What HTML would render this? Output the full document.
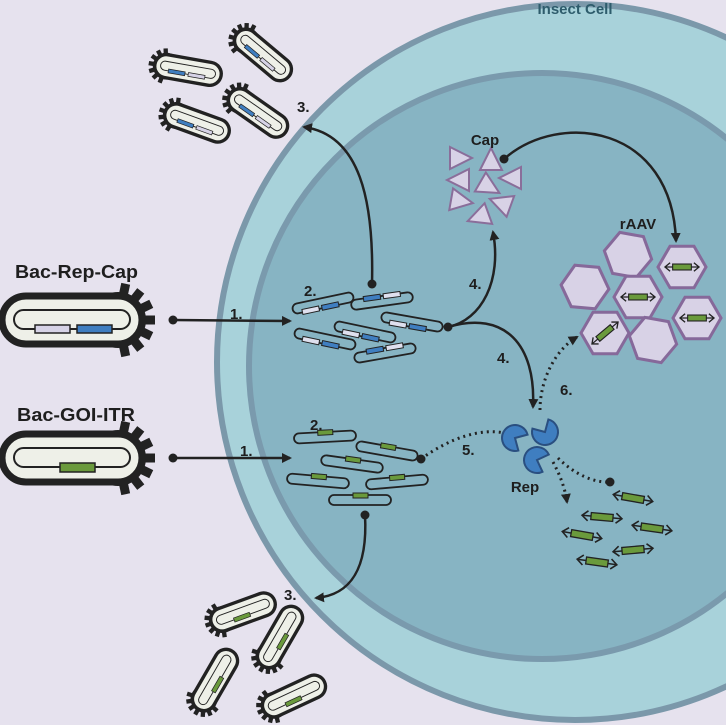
<!DOCTYPE html>
<html><head><meta charset="utf-8"><style>
html,body{margin:0;padding:0;background:#e6e2ee;}
svg{display:block;}
text{font-family:"Liberation Sans",Arial,sans-serif;font-weight:bold;fill:#1e1e1e;}
</style></head><body>
<svg width="726" height="725" viewBox="0 0 726 725" xmlns="http://www.w3.org/2000/svg">
<defs>
<marker id="ah" markerWidth="12" markerHeight="12" refX="8" refY="5" orient="auto" markerUnits="userSpaceOnUse">
<path d="M0,0 L10,5 L0,10 z" fill="#222"/></marker>
<g id="teeth" fill="#222">
<g transform="translate(-46,0)">
<circle r="28"/>
<rect x="-37" y="-4.5" width="10" height="9" transform="rotate(0)"/>
<rect x="-37" y="-4.5" width="10" height="9" transform="rotate(26)"/>
<rect x="-37" y="-4.5" width="10" height="9" transform="rotate(-26)"/>
<rect x="-37" y="-4.5" width="10" height="9" transform="rotate(52)"/>
<rect x="-37" y="-4.5" width="10" height="9" transform="rotate(-52)"/>
<rect x="-37" y="-4.5" width="10" height="9" transform="rotate(78)"/>
<rect x="-37" y="-4.5" width="10" height="9" transform="rotate(-78)"/>
</g></g>
<g id="bacRC">
<use href="#teeth"/>
<rect x="-70" y="-24" width="140" height="48" rx="24" fill="#eef0e8" stroke="#222" stroke-width="7"/>
<rect x="-58" y="-10" width="116" height="19" rx="9.5" fill="none" stroke="#222" stroke-width="2"/>
<rect x="-40" y="5" width="35" height="8" fill="#3f7ec0" stroke="#222" stroke-width="1.5"/>
<rect x="2" y="5" width="35" height="8" fill="#d6d3e6" stroke="#222" stroke-width="1.5"/>
</g>
<g id="bacG">
<use href="#teeth"/>
<rect x="-70" y="-24" width="140" height="48" rx="24" fill="#eef0e8" stroke="#222" stroke-width="7"/>
<rect x="-58" y="-10" width="116" height="19" rx="9.5" fill="none" stroke="#222" stroke-width="2"/>
<rect x="-23" y="5" width="35" height="9" fill="#6a9a3c" stroke="#222" stroke-width="1.5"/>
</g>
<g id="plRC">
<rect x="-31" y="-5" width="62" height="10" rx="5" fill="none" stroke="#222" stroke-width="1.8"/>
<rect x="-22" y="2" width="17" height="5" fill="#dfe0ee" stroke="#222" stroke-width="1"/>
<rect x="-2" y="2" width="17" height="5" fill="#3f7ec0" stroke="#222" stroke-width="1"/>
</g>
<g id="plCR">
<rect x="-31" y="-5" width="62" height="10" rx="5" fill="none" stroke="#222" stroke-width="1.8"/>
<rect x="-18" y="-7" width="17" height="5" fill="#3f7ec0" stroke="#222" stroke-width="1"/>
<rect x="2" y="-7" width="17" height="5" fill="#dfe0ee" stroke="#222" stroke-width="1"/>
</g>
<g id="plG">
<rect x="-31" y="-5" width="62" height="10" rx="5" fill="none" stroke="#222" stroke-width="1.8"/>
<rect x="-7" y="-7" width="15" height="5" fill="#6a9a3c" stroke="#222" stroke-width="1"/>
</g>
<g id="ds">
<line x1="-20" y1="0" x2="20" y2="0" stroke="#222" stroke-width="1.5"/>
<path d="M-14,-5 L-20,0 L-14,5 M14,-5 L20,0 L14,5" fill="none" stroke="#222" stroke-width="1.6"/>
<rect x="-11" y="-3.5" width="22" height="7" fill="#6a9a3c" stroke="#222" stroke-width="1.3"/>
</g>
<polygon id="hex" points="24,0 12,20.8 -12,20.8 -24,0 -12,-20.8 12,-20.8" fill="#d8d2e6" stroke="#86699a" stroke-width="3"/>
<polygon id="tri" points="-10,-11 12,0 -10,11" fill="#d8d2e6" stroke="#8a6e9a" stroke-width="2"/>
<path id="pac" d="M0,0 L9.2,-9.2 A13,13 0 1 0 9.2,9.2 Z" fill="#3f7ec0" stroke="#2a4f80" stroke-width="2"/>
</defs>
<rect width="726" height="725" fill="#e6e2ee"/>
<circle cx="575" cy="362" r="358" fill="#a8d2da" stroke="#7b98aa" stroke-width="6"/>
<circle cx="542" cy="366" r="293" fill="#87b4c3" stroke="#7a9aad" stroke-width="6"/>
<text x="575" y="14" font-size="15" text-anchor="middle" style="fill:#2e5c6c">Insect Cell</text>

<text x="15" y="278" font-size="18" textLength="123" lengthAdjust="spacingAndGlyphs">Bac-Rep-Cap</text>
<use href="#bacRC" transform="translate(72,320) scale(-1,1)"/>
<text x="17" y="421" font-size="18" textLength="118" lengthAdjust="spacingAndGlyphs">Bac-GOI-ITR</text>
<use href="#bacG" transform="translate(72,458) scale(-1,1)"/>

<use href="#bacRC" transform="translate(188,70) rotate(10) scale(0.48)"/>
<use href="#bacRC" transform="translate(263,55) rotate(40) scale(0.48)"/>
<use href="#bacRC" transform="translate(197,123) rotate(20) scale(0.48)"/>
<use href="#bacRC" transform="translate(258,113) rotate(35) scale(0.48)"/>
<use href="#bacG" transform="translate(243,612) rotate(-20) scale(0.48)"/>
<use href="#bacG" transform="translate(280,637) rotate(-60) scale(0.48)"/>
<use href="#bacG" transform="translate(215,680) rotate(-60) scale(0.48)"/>
<use href="#bacG" transform="translate(294,696) rotate(-25) scale(0.48)"/>

<use href="#plRC" transform="translate(323,303) rotate(-12)"/>
<use href="#plCR" transform="translate(382,301) rotate(-8)"/>
<use href="#plRC" transform="translate(412,322) rotate(10)"/>
<use href="#plRC" transform="translate(365,332) rotate(12)"/>
<use href="#plRC" transform="translate(325,339) rotate(12)"/>
<use href="#plCR" transform="translate(385,353) rotate(-10)"/>
<use href="#plG" transform="translate(325,437) rotate(-3)"/>
<use href="#plG" transform="translate(387,451) rotate(10)"/>
<use href="#plG" transform="translate(352,464) rotate(8)"/>
<use href="#plG" transform="translate(318,481) rotate(5)"/>
<use href="#plG" transform="translate(397,482) rotate(-5)"/>
<use href="#plG" transform="translate(360,500) rotate(0)"/>

<g fill="none" stroke="#222" stroke-width="2.5">
<path d="M173,320 L290,321" marker-end="url(#ah)"/>
<path d="M173,458 L290,458" marker-end="url(#ah)"/>
<path d="M372,284 C374,200 360,135 304,127" marker-end="url(#ah)"/>
<path d="M365,515 C368,570 350,595 316,598" marker-end="url(#ah)"/>
<path d="M448,327 C482,320 502,280 493,232" marker-end="url(#ah)"/>
<path d="M448,327 C505,310 536,345 533,407" marker-end="url(#ah)"/>
<path d="M504,159 C560,110 672,125 676,241" marker-end="url(#ah)"/>
</g>
<g fill="none" stroke="#222" stroke-width="3" stroke-dasharray="2 4">
<path d="M421,459 C450,438 480,428 505,433"/>
<path d="M540,410 C540,380 555,350 577,337" marker-end="url(#ah)"/>
<path d="M558,458 C575,475 595,483 610,482"/>
<path d="M553,462 C560,475 565,488 567,502" marker-end="url(#ah)"/>
</g>
<g fill="#222">
<circle cx="173" cy="320" r="4.5"/><circle cx="173" cy="458" r="4.5"/>
<circle cx="372" cy="284" r="4.5"/><circle cx="448" cy="327" r="4.5"/>
<circle cx="421" cy="459" r="4.5"/><circle cx="365" cy="515" r="4.5"/>
<circle cx="504" cy="159" r="4.5"/><circle cx="610" cy="482" r="4.5"/>
</g>

<use href="#tri" transform="translate(460,158) rotate(0)"/>
<use href="#tri" transform="translate(491,160) rotate(-90)"/>
<use href="#tri" transform="translate(459,180) rotate(180)"/>
<use href="#tri" transform="translate(489,187) rotate(30)"/>
<use href="#tri" transform="translate(511,178) rotate(180)"/>
<use href="#tri" transform="translate(461,201) rotate(10)"/>
<use href="#tri" transform="translate(501,203) rotate(200)"/>
<use href="#tri" transform="translate(479,217) rotate(160)"/>
<text x="485" y="145" font-size="15" text-anchor="middle">Cap</text>

<text x="638" y="229" font-size="15" text-anchor="middle">rAAV</text>
<use href="#hex" transform="translate(628,255) rotate(10)"/>
<use href="#hex" transform="translate(682,267)"/>
<use href="#ds" transform="translate(682,267) scale(0.85)"/>
<use href="#hex" transform="translate(585,287) rotate(5)"/>
<use href="#hex" transform="translate(638,297)"/>
<use href="#ds" transform="translate(638,297) scale(0.85)"/>
<use href="#hex" transform="translate(697,318)"/>
<use href="#ds" transform="translate(697,318) scale(0.85)"/>
<use href="#hex" transform="translate(605,333)"/>
<use href="#ds" transform="translate(605,333) rotate(-40) scale(0.85)"/>
<use href="#hex" transform="translate(653,340) rotate(10)"/>

<use href="#pac" transform="translate(515,438) rotate(30)"/>
<use href="#pac" transform="translate(545,432) rotate(-120)"/>
<use href="#pac" transform="translate(537,460) rotate(20)"/>
<text x="525" y="492" font-size="15" text-anchor="middle">Rep</text>

<use href="#ds" transform="translate(633,498) rotate(10)"/>
<use href="#ds" transform="translate(602,517) rotate(5)"/>
<use href="#ds" transform="translate(652,528) rotate(8)"/>
<use href="#ds" transform="translate(582,535) rotate(10)"/>
<use href="#ds" transform="translate(633,550) rotate(-5)"/>
<use href="#ds" transform="translate(597,562) rotate(8)"/>

<g font-size="15">
<text x="230" y="319">1.</text>
<text x="240" y="456">1.</text>
<text x="304" y="296">2.</text>
<text x="310" y="430">2.</text>
<text x="297" y="112">3.</text>
<text x="284" y="600">3.</text>
<text x="469" y="289">4.</text>
<text x="497" y="363">4.</text>
<text x="462" y="455">5.</text>
<text x="560" y="395">6.</text>
</g>
</svg>
</body></html>
